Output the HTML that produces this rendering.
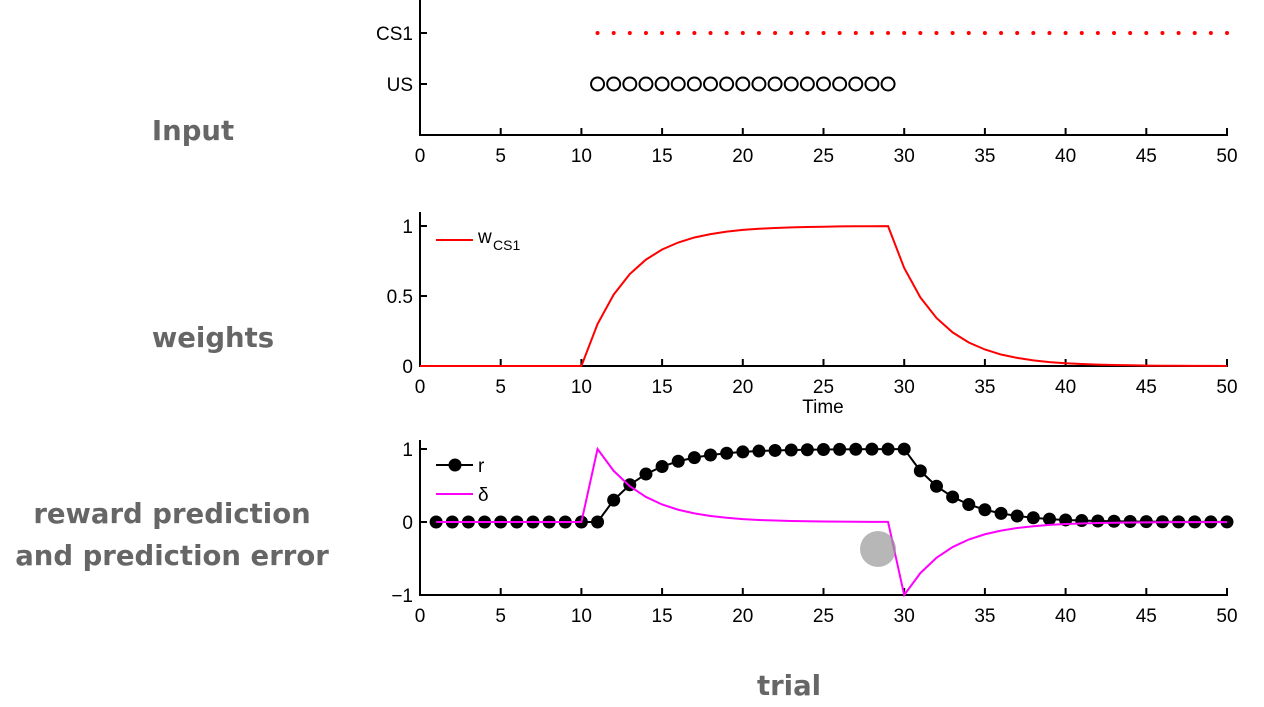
<!DOCTYPE html>
<html><head><meta charset="utf-8"><style>
body{margin:0;background:#fff;width:1264px;height:707px;overflow:hidden}
.lab{position:absolute;font-family:"DejaVu Sans","Liberation Sans",sans-serif;font-weight:bold;color:#666;font-size:27.5px;text-align:center;line-height:42px}
</style></head><body>
<div class="lab" style="left:93px;top:110px;width:200px">Input</div>
<div class="lab" style="left:113px;top:317px;width:200px">weights</div>
<div class="lab" style="left:0;top:493px;width:344px">reward prediction<br>and prediction error</div>
<div class="lab" style="left:689px;top:665px;width:200px">trial</div>
<svg id="c" width="1264" height="707" style="position:absolute;left:0;top:0" font-family="Liberation Sans, sans-serif" font-size="19"></svg>
<script>
const trials=[];for(let i=0;i<=50;i++)trials.push(i);
const weights=[0,0,0,0,0,0,0,0,0,0,0,0.3,0.51,0.657,0.76,0.832,0.882,0.918,0.942,0.96,0.972,0.98,0.986,0.99,0.993,0.995,0.997,0.998,0.998,0.999,0.7,0.49,0.343,0.24,0.168,0.118,0.082,0.058,0.04,0.028,0.02,0.014,0.01,0.007,0.005,0.003,0.002,0.002,0.001,0.001,0];
const rVals=[0,0,0,0,0,0,0,0,0,0,0,0.3,0.51,0.657,0.76,0.832,0.882,0.918,0.942,0.96,0.972,0.98,0.986,0.99,0.993,0.995,0.997,0.998,0.998,0.999,0.7,0.49,0.343,0.24,0.168,0.118,0.082,0.058,0.04,0.028,0.02,0.014,0.01,0.007,0.005,0.003,0.002,0.002,0.001,0.001];
const deltaVals=[0,0,0,0,0,0,0,0,0,0,1,0.7,0.49,0.343,0.24,0.168,0.118,0.082,0.058,0.04,0.028,0.02,0.014,0.01,0.007,0.005,0.003,0.002,0.002,-1,-0.7,-0.49,-0.343,-0.24,-0.168,-0.118,-0.082,-0.058,-0.04,-0.028,-0.02,-0.014,-0.01,-0.007,-0.005,-0.003,-0.002,-0.002,-0.001,-0.001];
const csTrials=[11,12,13,14,15,16,17,18,19,20,21,22,23,24,25,26,27,28,29,30,31,32,33,34,35,36,37,38,39,40,41,42,43,44,45,46,47,48,49,50];
const usTrials=[11,12,13,14,15,16,17,18,19,20,21,22,23,24,25,26,27,28,29];
const xTicks=[0,5,10,15,20,25,30,35,40,45,50];
const svg=document.getElementById('c');const NS='http://www.w3.org/2000/svg';
function el(t,a,txt){const e=document.createElementNS(NS,t);for(const k in a)e.setAttribute(k,a[k]);if(txt!==undefined)e.textContent=txt;svg.appendChild(e);return e;}
const X=v=>420+v*(807/50);
function xAxis(y,top,name){
 let e=el('line',{x1:420,y1:y,x2:1228,y2:y,stroke:'#000','stroke-width':2});
 
 e=el('line',{x1:420,y1:top,x2:420,y2:y+1,stroke:'#000','stroke-width':2});
 
 xTicks.forEach(t=>{el('line',{x1:X(t),y1:y,x2:X(t),y2:y-7,stroke:'#000','stroke-width':2});
  e=el('text',{x:X(t),y:y+27,'text-anchor':'middle'},t);
  });
}
function yTick(y,label,nm){el('line',{x1:420,y1:y,x2:427,y2:y,stroke:'#000','stroke-width':2});
 const e=el('text',{x:413,y:y+7,'text-anchor':'end'},label);}
// Panel 1
xAxis(135,0,'input');yTick(33,'CS1','cs1-label');yTick(84,'US','us-label');
csTrials.forEach(t=>{const e=el('circle',{cx:X(t),cy:33,r:2,fill:'#f00'});});
usTrials.forEach(t=>{const e=el('circle',{cx:X(t),cy:84,r:6.5,fill:'none',stroke:'#000','stroke-width':2});});
// Panel 2
const Y2=v=>366-v*140;
xAxis(366,212,'weights');yTick(Y2(1),'1','y-tick');yTick(Y2(0.5),'0.5','y-tick');yTick(Y2(0),'0','y-tick');
let e=el('polyline',{points:trials.map(t=>X(t)+','+Y2(weights[t])).join(' '),fill:'none',stroke:'#f00','stroke-width':2});

el('line',{x1:436,y1:240,x2:473,y2:240,stroke:'#f00','stroke-width':2});
e=el('text',{x:478,y:243},'w');
el('text',{x:493,y:250,'font-size':14},'CS1');
e=el('text',{x:823,y:413,'text-anchor':'middle'},'Time');
// Panel 3
const Y3=v=>522-v*73;
xAxis(595,440,'reward');yTick(Y3(1),'1','y-tick');yTick(Y3(0),'0','y-tick');yTick(Y3(-1),'\u22121','y-tick');
e=el('polyline',{points:rVals.map((v,i)=>X(i+1)+','+Y3(v)).join(' '),fill:'none',stroke:'#000','stroke-width':2});

rVals.forEach((v,i)=>{const c=el('circle',{cx:X(i+1),cy:Y3(v),r:6.5,fill:'#000'});});
e=el('polyline',{points:deltaVals.map((v,i)=>X(i+1)+','+Y3(v)).join(' '),fill:'none',stroke:'#f0f','stroke-width':2});

el('line',{x1:436,y1:465,x2:473,y2:465,stroke:'#000','stroke-width':2});el('circle',{cx:455,cy:465,r:6.5,fill:'#000'});
e=el('text',{x:478,y:472},'r');
el('line',{x1:436,y1:494,x2:473,y2:494,stroke:'#f0f','stroke-width':2});
e=el('text',{x:478,y:501},'\u03b4');
e=el('circle',{cx:878,cy:549,r:18,fill:'#999','fill-opacity':0.7});
</script></body></html>
